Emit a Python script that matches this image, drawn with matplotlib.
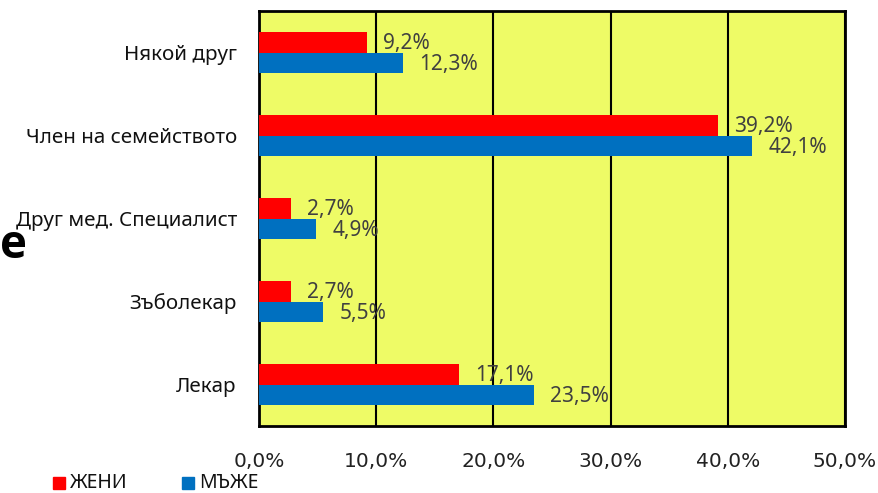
import matplotlib
matplotlib.use("Agg")
import matplotlib.pyplot as plt
from matplotlib.patches import Rectangle
import numpy as np

categories = ["Лекар", "Зъболекар", "Друг мед. Специалист", "Член на семейството", "Някой друг"]
women = [17.1, 2.7, 2.7, 39.2, 9.2]
men = [23.5, 5.5, 4.9, 42.1, 12.3]
series_names = ["ЖЕНИ", "МЪЖЕ"]
x_ticks = [0, 10, 20, 30, 40, 50]

RED = "#FF0000"
BLUE = "#0070C0"
BG = "#EEFB66"
LABEL = "#404040"
FONT = ["Noto Sans", "DejaVu Sans"]

fig = plt.figure(figsize=(8.79, 4.93), dpi=100)
ax = fig.add_axes([259 / 879, 1 - 426 / 493, (845 - 259) / 879, (426 - 11) / 493])
ax.set_facecolor(BG)

y = np.arange(len(categories))
h = 0.25
ax.barh(y + h / 2, women, height=h, color=RED, zorder=3)
ax.barh(y - h / 2, men, height=h, color=BLUE, zorder=3)

for yi, w, m in zip(y, women, men):
    ax.annotate(f"{w:.1f}%".replace(".", ","), (w, yi + h / 2), xytext=(11.5, -1),
                textcoords="offset points", va="center", ha="left",
                fontsize=15, color=LABEL, family=FONT, zorder=4)
    ax.annotate(f"{m:.1f}%".replace(".", ","), (m, yi - h / 2), xytext=(11.5, -1),
                textcoords="offset points", va="center", ha="left",
                fontsize=15, color=LABEL, family=FONT, zorder=4)

ax.set_xlim(0, 50)
ax.set_ylim(-0.5, len(categories) - 0.5)
ax.set_xticks(x_ticks)
ax.set_xticklabels([f"{t:.1f}%".replace(".", ",") for t in x_ticks],
                   fontsize=14.5, color="#222222", family=["DejaVu Sans"])
ax.set_yticks(y)
ax.set_yticklabels(categories, fontsize=14.8, color="#111111", family=FONT)
ax.tick_params(axis="both", length=0)
ax.tick_params(axis="x", pad=19)
ax.tick_params(axis="y", pad=16)
ax.xaxis.grid(True, color="black", linewidth=1.5, zorder=1)
ax.set_axisbelow(True)
for s in ax.spines.values():
    s.set_color("black")
    s.set_linewidth(2)

# legend
fig.patches.append(Rectangle((53 / 879, 1 - 489 / 493), 12 / 879, 12 / 493,
                             transform=fig.transFigure, color=RED, figure=fig))
fig.text(70 / 879, 1 - 483 / 493, series_names[0], fontsize=14, family=FONT,
         va="center", ha="left", color="#111111")
fig.patches.append(Rectangle((182 / 879, 1 - 489 / 493), 12 / 879, 12 / 493,
                             transform=fig.transFigure, color=BLUE, figure=fig))
fig.text(199 / 879, 1 - 483 / 493, series_names[1], fontsize=14, family=FONT,
         va="center", ha="left", color="#111111")

fig.text(0.5 / 879, 1 - 245 / 493, "e", fontsize=33, fontweight="bold",
         family=["Open Sans", "DejaVu Sans"], va="center", ha="left", color="black")

fig.savefig("out.png", dpi=100)
